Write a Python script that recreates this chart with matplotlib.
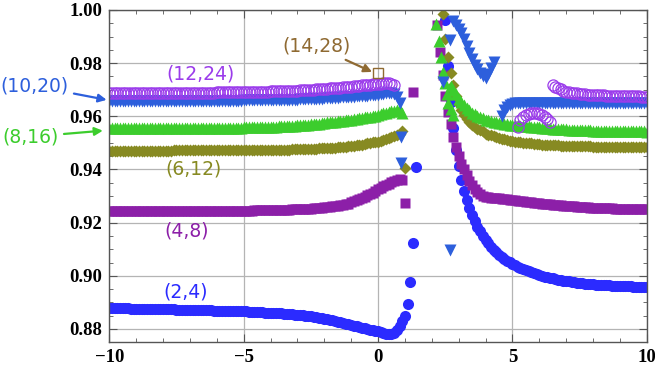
import numpy as np
import matplotlib.pyplot as plt
import matplotlib.ticker as ticker

nan = np.nan

# common x grid, step 0.1 from -10 to 10
x = np.round(np.linspace(-10, 10, 201), 1)

# (2,4) blue circles
y_2_4 = [
    0.8879, 0.8879, 0.8879, 0.8879, 0.8878, 0.8878, 0.8878, 0.8878, 0.8877, 0.8877,
    0.8877, 0.8877, 0.8876, 0.8876, 0.8876, 0.8876, 0.8876, 0.8875, 0.8875, 0.8875,
    0.8875, 0.8875, 0.8874, 0.8874, 0.8874, 0.8873, 0.8873, 0.8873, 0.8873, 0.8872,
    0.8872, 0.8872, 0.8872, 0.8871, 0.8871, 0.8871, 0.8870, 0.8870, 0.8870, 0.8869,
    0.8869, 0.8869, 0.8869, 0.8868, 0.8868, 0.8868, 0.8867, 0.8867, 0.8867, 0.8866,
    0.8866, 0.8866, 0.8865, 0.8865, 0.8864, 0.8864, 0.8863, 0.8863, 0.8862, 0.8862,
    0.8861, 0.8861, 0.8860, 0.8859, 0.8859, 0.8858, 0.8857, 0.8856, 0.8855, 0.8854,
    0.8853, 0.8852, 0.8851, 0.8850, 0.8849, 0.8847, 0.8846, 0.8844, 0.8842, 0.8840,
    0.8838, 0.8836, 0.8834, 0.8832, 0.8830, 0.8828, 0.8825, 0.8823, 0.8820, 0.8818,
    0.8815, 0.8813, 0.8810, 0.8808, 0.8805, 0.8803, 0.8800, 0.8798, 0.8796, 0.8793,
    0.8791, 0.8788, 0.8785, 0.8783, 0.8782, 0.8782, 0.8786, 0.8796, 0.8812, 0.8830,
    0.8850, 0.8895, 0.8976, 0.9123, 0.9411, nan, nan, nan, nan, nan,
    nan, nan, nan, nan, nan, 0.9962, 0.9788, 0.9655, 0.9555, 0.9474,
    0.9412, 0.9362, 0.9320, 0.9285, 0.9254, 0.9228, 0.9205, 0.9185, 0.9167, 0.9151,
    0.9136, 0.9122, 0.9110, 0.9099, 0.9089, 0.9080, 0.9072, 0.9064, 0.9057, 0.9051,
    0.9045, 0.9040, 0.9035, 0.9030, 0.9025, 0.9021, 0.9017, 0.9013, 0.9010, 0.9006,
    0.9003, 0.9000, 0.8997, 0.8995, 0.8992, 0.8990, 0.8988, 0.8986, 0.8984, 0.8982,
    0.8980, 0.8979, 0.8977, 0.8976, 0.8974, 0.8973, 0.8972, 0.8971, 0.8970, 0.8969,
    0.8968, 0.8967, 0.8966, 0.8966, 0.8965, 0.8964, 0.8964, 0.8963, 0.8963, 0.8962,
    0.8962, 0.8961, 0.8961, 0.8960, 0.8960, 0.8959, 0.8959, 0.8959, 0.8958, 0.8958,
    0.8957]

# (4,8) purple squares
y_4_8 = [
    0.9242, 0.9242, 0.9242, 0.9242, 0.9242, 0.9242, 0.9242, 0.9242, 0.9242, 0.9242,
    0.9242, 0.9242, 0.9242, 0.9242, 0.9242, 0.9242, 0.9242, 0.9242, 0.9242, 0.9242,
    0.9242, 0.9242, 0.9242, 0.9242, 0.9242, 0.9243, 0.9243, 0.9243, 0.9243, 0.9243,
    0.9243, 0.9243, 0.9243, 0.9243, 0.9243, 0.9243, 0.9243, 0.9243, 0.9243, 0.9243,
    0.9244, 0.9244, 0.9244, 0.9244, 0.9244, 0.9244, 0.9244, 0.9244, 0.9244, 0.9244,
    0.9245, 0.9245, 0.9245, 0.9245, 0.9246, 0.9246, 0.9246, 0.9246, 0.9247, 0.9247,
    0.9247, 0.9247, 0.9248, 0.9248, 0.9248, 0.9249, 0.9249, 0.9249, 0.9250, 0.9250,
    0.9251, 0.9251, 0.9252, 0.9252, 0.9253, 0.9253, 0.9254, 0.9255, 0.9256, 0.9257,
    0.9258, 0.9259, 0.9260, 0.9261, 0.9262, 0.9264, 0.9266, 0.9268, 0.9270, 0.9272,
    0.9278, 0.9281, 0.9284, 0.9288, 0.9293, 0.9298, 0.9303, 0.9308, 0.9313, 0.9319,
    0.9325, 0.9331, 0.9337, 0.9342, 0.9347, 0.9352, 0.9357, 0.9362, 0.9366, 0.9360,
    0.9273, nan, nan, 0.9690, nan, nan, nan, nan, nan, nan,
    nan, nan, 0.9942, 0.9842, 0.9755, 0.9678, 0.9617, 0.9570, 0.9524, 0.9486,
    0.9450, 0.9420, 0.9400, 0.9378, 0.9358, 0.9342, 0.9326, 0.9314, 0.9306, 0.9301,
    0.9298, 0.9296, 0.9294, 0.9293, 0.9292, 0.9291, 0.9290, 0.9289, 0.9288, 0.9287,
    0.9286, 0.9285, 0.9283, 0.9282, 0.9280, 0.9279, 0.9278, 0.9277, 0.9275, 0.9274,
    0.9273, 0.9272, 0.9271, 0.9270, 0.9269, 0.9268, 0.9267, 0.9266, 0.9265, 0.9264,
    0.9263, 0.9262, 0.9262, 0.9261, 0.9260, 0.9260, 0.9259, 0.9258, 0.9258, 0.9257,
    0.9257, 0.9256, 0.9256, 0.9255, 0.9255, 0.9254, 0.9254, 0.9254, 0.9253, 0.9253,
    0.9253, 0.9252, 0.9252, 0.9252, 0.9252, 0.9251, 0.9251, 0.9251, 0.9251, 0.9251,
    0.9251]

# (6,12) olive diamonds
y_6_12 = [
    0.9471, 0.9471, 0.9471, 0.9471, 0.9471, 0.9471, 0.9471, 0.9471, 0.9471, 0.9471,
    0.9471, 0.9471, 0.9471, 0.9471, 0.9471, 0.9471, 0.9471, 0.9471, 0.9471, 0.9471,
    0.9471, 0.9471, 0.9471, 0.9471, 0.9472, 0.9472, 0.9472, 0.9472, 0.9472, 0.9472,
    0.9472, 0.9472, 0.9472, 0.9472, 0.9472, 0.9472, 0.9472, 0.9472, 0.9472, 0.9472,
    0.9472, 0.9472, 0.9472, 0.9472, 0.9472, 0.9473, 0.9473, 0.9473, 0.9473, 0.9473,
    0.9473, 0.9473, 0.9473, 0.9473, 0.9474, 0.9474, 0.9474, 0.9474, 0.9474, 0.9474,
    0.9474, 0.9474, 0.9474, 0.9475, 0.9475, 0.9475, 0.9475, 0.9475, 0.9476, 0.9476,
    0.9476, 0.9476, 0.9477, 0.9477, 0.9477, 0.9478, 0.9478, 0.9478, 0.9479, 0.9479,
    0.9480, 0.9480, 0.9481, 0.9482, 0.9482, 0.9483, 0.9484, 0.9485, 0.9486, 0.9487,
    0.9489, 0.9490, 0.9491, 0.9493, 0.9494, 0.9496, 0.9498, 0.9500, 0.9502, 0.9503,
    0.9505, 0.9508, 0.9511, 0.9514, 0.9517, 0.9521, 0.9525, 0.9530, 0.9535, 0.9543,
    0.9405, nan, nan, nan, nan, nan, nan, nan, nan, nan,
    nan, nan, nan, nan, 0.9985, 0.9892, 0.9822, 0.9763, 0.9718, 0.9678,
    0.9645, 0.9622, 0.9604, 0.9590, 0.9579, 0.9569, 0.9561, 0.9554, 0.9548, 0.9543,
    0.9535, 0.9531, 0.9528, 0.9525, 0.9522, 0.9519, 0.9516, 0.9513, 0.9511, 0.9509,
    0.9507, 0.9505, 0.9504, 0.9502, 0.9501, 0.9500, 0.9499, 0.9498, 0.9497, 0.9496,
    0.9495, 0.9494, 0.9494, 0.9493, 0.9492, 0.9492, 0.9491, 0.9491, 0.9490, 0.9490,
    0.9489, 0.9489, 0.9489, 0.9488, 0.9488, 0.9488, 0.9487, 0.9487, 0.9487, 0.9487,
    0.9486, 0.9486, 0.9486, 0.9486, 0.9486, 0.9485, 0.9485, 0.9485, 0.9485, 0.9485,
    0.9485, 0.9485, 0.9484, 0.9484, 0.9484, 0.9484, 0.9484, 0.9484, 0.9484, 0.9484,
    0.9484]

# (8,16) green triangles
y_8_16 = [
    0.9555, 0.9555, 0.9555, 0.9555, 0.9555, 0.9555, 0.9555, 0.9555, 0.9555, 0.9555,
    0.9555, 0.9555, 0.9555, 0.9555, 0.9555, 0.9555, 0.9555, 0.9555, 0.9555, 0.9555,
    0.9555, 0.9555, 0.9555, 0.9556, 0.9556, 0.9556, 0.9556, 0.9556, 0.9556, 0.9556,
    0.9556, 0.9556, 0.9556, 0.9556, 0.9556, 0.9556, 0.9556, 0.9556, 0.9556, 0.9556,
    0.9557, 0.9557, 0.9557, 0.9557, 0.9557, 0.9557, 0.9557, 0.9557, 0.9557, 0.9557,
    0.9558, 0.9558, 0.9558, 0.9558, 0.9559, 0.9559, 0.9559, 0.9560, 0.9560, 0.9560,
    0.9561, 0.9561, 0.9561, 0.9562, 0.9562, 0.9563, 0.9563, 0.9564, 0.9564, 0.9565,
    0.9566, 0.9566, 0.9567, 0.9568, 0.9569, 0.9570, 0.9571, 0.9572, 0.9573, 0.9574,
    0.9576, 0.9577, 0.9578, 0.9579, 0.9580, 0.9581, 0.9582, 0.9584, 0.9585, 0.9586,
    0.9588, 0.9589, 0.9591, 0.9592, 0.9594, 0.9596, 0.9597, 0.9599, 0.9601, 0.9603,
    0.9605, 0.9608, 0.9611, 0.9614, 0.9616, 0.9619, 0.9621, 0.9624, 0.9622, 0.9612,
    nan, nan, nan, nan, nan, nan, nan, nan, nan, nan,
    nan, nan, nan, nan, nan, nan, nan, 0.9715, 0.9700, 0.9683,
    0.9667, 0.9653, 0.9641, 0.9631, 0.9622, 0.9614, 0.9607, 0.9601, 0.9596, 0.9592,
    0.9588, 0.9585, 0.9582, 0.9580, 0.9578, 0.9576, 0.9574, 0.9572, 0.9571, 0.9569,
    0.9568, 0.9567, 0.9566, 0.9565, 0.9564, 0.9563, 0.9562, 0.9561, 0.9560, 0.9559,
    0.9558, 0.9557, 0.9556, 0.9556, 0.9555, 0.9554, 0.9553, 0.9553, 0.9552, 0.9552,
    0.9551, 0.9550, 0.9550, 0.9549, 0.9549, 0.9548, 0.9548, 0.9547, 0.9547, 0.9547,
    0.9546, 0.9546, 0.9546, 0.9545, 0.9545, 0.9545, 0.9544, 0.9544, 0.9544, 0.9544,
    0.9543, 0.9543, 0.9543, 0.9543, 0.9543, 0.9543, 0.9543, 0.9543, 0.9543, 0.9543,
    0.9542]
# steep part of (8,16) near the resonance
x_8_16_b = [2.17, 2.28, 2.34, 2.42, 2.48, 2.55, 2.62, 2.70, 2.79]
y_8_16_b = [0.9948, 0.9884, 0.9822, 0.9765, 0.9726, 0.9685, 0.9652, 0.9628, 0.9605]

# (10,20) blue down triangles
y_10_20 = [
    0.9657, 0.9657, 0.9657, 0.9657, 0.9657, 0.9657, 0.9657, 0.9657, 0.9657, 0.9657,
    0.9657, 0.9657, 0.9657, 0.9657, 0.9657, 0.9657, 0.9657, 0.9657, 0.9657, 0.9657,
    0.9657, 0.9657, 0.9657, 0.9658, 0.9658, 0.9658, 0.9658, 0.9658, 0.9658, 0.9658,
    0.9658, 0.9658, 0.9658, 0.9658, 0.9658, 0.9658, 0.9658, 0.9658, 0.9658, 0.9658,
    0.9659, 0.9659, 0.9659, 0.9659, 0.9659, 0.9659, 0.9659, 0.9659, 0.9659, 0.9659,
    0.9660, 0.9660, 0.9660, 0.9660, 0.9660, 0.9661, 0.9661, 0.9661, 0.9661, 0.9661,
    0.9661, 0.9661, 0.9662, 0.9662, 0.9662, 0.9662, 0.9662, 0.9663, 0.9663, 0.9663,
    0.9663, 0.9664, 0.9664, 0.9664, 0.9665, 0.9665, 0.9666, 0.9666, 0.9667, 0.9667,
    0.9668, 0.9668, 0.9669, 0.9669, 0.9670, 0.9670, 0.9671, 0.9672, 0.9672, 0.9673,
    0.9674, 0.9674, 0.9675, 0.9676, 0.9677, 0.9678, 0.9678, 0.9679, 0.9680, 0.9681,
    0.9682, 0.9683, 0.9684, 0.9686, 0.9687, 0.9688, 0.9685, 0.9672, 0.9650, nan,
    nan, nan, nan, nan, nan, nan, nan, nan, nan, nan,
    nan, nan, nan, nan, nan, nan, nan, nan, 0.9958, 0.9944,
    0.9929, 0.9913, 0.9890, 0.9865, 0.9840, 0.9816, 0.9794, 0.9779, 0.9764, 0.9752,
    0.9745, 0.9760, 0.9780, 0.9806, nan, nan, 0.9600, 0.9622, 0.9636, 0.9643,
    0.9647, 0.9649, 0.9650, 0.9651, 0.9651, 0.9652, 0.9652, 0.9652, 0.9652, 0.9652,
    0.9652, 0.9652, 0.9652, 0.9652, 0.9652, 0.9652, 0.9652, 0.9652, 0.9652, 0.9652,
    0.9652, 0.9652, 0.9652, 0.9652, 0.9652, 0.9652, 0.9652, 0.9652, 0.9652, 0.9652,
    0.9652, 0.9652, 0.9652, 0.9652, 0.9652, 0.9652, 0.9652, 0.9652, 0.9652, 0.9652,
    0.9652, 0.9652, 0.9652, 0.9652, 0.9652, 0.9652, 0.9652, 0.9652, 0.9652, 0.9652,
    0.9652]
# stray (10,20) points
x_10_20_b = [0.87, 0.87, 2.42, 2.67, 2.67]
y_10_20_b = [0.9524, 0.9424, 0.9729, 0.9888, 0.9098]

# (12,24) violet open circles
y_12_24 = [
    0.9687, 0.9687, 0.9687, 0.9687, 0.9687, 0.9687, 0.9687, 0.9687, 0.9687, 0.9687,
    0.9687, 0.9687, 0.9687, 0.9687, 0.9687, 0.9688, 0.9688, 0.9688, 0.9688, 0.9688,
    0.9688, 0.9688, 0.9688, 0.9688, 0.9688, 0.9688, 0.9688, 0.9688, 0.9688, 0.9688,
    0.9689, 0.9689, 0.9689, 0.9689, 0.9689, 0.9689, 0.9689, 0.9689, 0.9689, 0.9689,
    0.9690, 0.9690, 0.9690, 0.9690, 0.9690, 0.9691, 0.9691, 0.9691, 0.9691, 0.9691,
    0.9692, 0.9692, 0.9692, 0.9692, 0.9692, 0.9693, 0.9693, 0.9693, 0.9693, 0.9693,
    0.9694, 0.9694, 0.9694, 0.9695, 0.9695, 0.9695, 0.9696, 0.9696, 0.9696, 0.9697,
    0.9697, 0.9698, 0.9698, 0.9699, 0.9699, 0.9700, 0.9700, 0.9701, 0.9702, 0.9702,
    0.9703, 0.9704, 0.9705, 0.9705, 0.9706, 0.9707, 0.9708, 0.9709, 0.9710, 0.9711,
    0.9712, 0.9713, 0.9714, 0.9715, 0.9716, 0.9717, 0.9718, 0.9719, 0.9720, 0.9721,
    0.9722, 0.9723, 0.9724, 0.9725, 0.9724, 0.9722, 0.9718, nan, nan, nan,
    nan, nan, nan, nan, nan, nan, nan, nan, nan, nan,
    nan, nan, nan, nan, nan, nan, nan, nan, nan, nan,
    nan, nan, nan, nan, nan, nan, nan, nan, nan, nan,
    nan, nan, nan, nan, nan, nan, nan, nan, nan, nan,
    nan, nan, 0.9559, 0.9586, 0.9598, 0.9604, 0.9608, 0.9611, 0.9612, 0.9611,
    0.9608, 0.9604, 0.9598, 0.9590, 0.9578, 0.9718, 0.9712, 0.9706, 0.9701, 0.9697,
    0.9693, 0.9691, 0.9689, 0.9687, 0.9686, 0.9685, 0.9684, 0.9683, 0.9682, 0.9681,
    0.9681, 0.9680, 0.9680, 0.9679, 0.9679, 0.9678, 0.9678, 0.9678, 0.9677, 0.9677,
    0.9677, 0.9676, 0.9676, 0.9676, 0.9675, 0.9675, 0.9675, 0.9675, 0.9674, 0.9674,
    0.9674]

# (14,28) single open square
x_14_28 = [0.0]
y_14_28 = [0.9762]

c_2_4 = '#2b2bff'
c_4_8 = '#8c1fa8'
c_6_12 = '#878a22'
c_8_16 = '#3ccd2d'
c_10_20 = '#2d5fdc'
c_12_24 = '#9b3ceb'
c_14_28 = '#8f6a32'

# serif numbers on the axes, sans for the series labels
plt.rcParams['font.family'] = ['Liberation Serif', 'DejaVu Serif']
lab_font = ['DejaVu Sans']

fig = plt.figure(figsize=(6.55, 3.66), dpi=100)
ax = fig.add_axes([0.1669, 0.0648, 0.8205, 0.9079])

ax.plot(x, y_2_4, 'o', ms=8.0, mfc=c_2_4, mec='none')
ax.plot(x, y_4_8, 's', ms=7.0, mfc=c_4_8, mec='none')
ax.plot(x, y_6_12, 'D', ms=5.7, mfc=c_6_12, mec='none')
ax.plot(x, y_8_16, '^', ms=8.5, mfc=c_8_16, mec='none')
ax.plot(x_8_16_b, y_8_16_b, '^', ms=8.5, mfc=c_8_16, mec='none')
ax.plot(x, y_10_20, 'v', ms=8.5, mfc=c_10_20, mec='none')
ax.plot(x_10_20_b, y_10_20_b, 'v', ms=8.5, mfc=c_10_20, mec='none')
ax.plot(x, y_12_24, 'o', ms=8.0, mfc='none', mec=c_12_24, mew=0.9)
ax.plot(x_14_28, y_14_28, 's', ms=7.0, mfc='none', mec=c_14_28, mew=1.0)

ax.set_xlim(-10, 10)
ax.set_ylim(0.875, 1.0)

ax.xaxis.set_major_locator(ticker.MultipleLocator(5))
ax.xaxis.set_minor_locator(ticker.MultipleLocator(1))
ax.yaxis.set_major_locator(ticker.MultipleLocator(0.02))
ax.yaxis.set_minor_locator(ticker.MultipleLocator(0.005))
ax.yaxis.set_major_formatter(ticker.FormatStrFormatter('%.2f'))

ax.grid(True, which='major', color='#b4b4b4', lw=0.9)
ax.set_axisbelow(True)
ax.tick_params(which='both', direction='in', top=True, right=True, color='#555555')
ax.tick_params(which='major', length=6, pad=5, labelsize=13.5)
ax.tick_params(which='minor', length=3)
for lab in ax.get_xticklabels() + ax.get_yticklabels():
    lab.set_fontweight('bold')
for sp in ax.spines.values():
    sp.set_color('#555555')
    sp.set_linewidth(1.0)

# labels of each series
fs = 13.5
ax.text(-7.17, 0.8938, '(2,4)', color=c_2_4, fontsize=fs, family=lab_font, ha='center', va='center')
ax.text(-7.14, 0.9167, '(4,8)', color=c_4_8, fontsize=fs, family=lab_font, ha='center', va='center')
ax.text(-6.85, 0.9402, '(6,12)', color=c_6_12, fontsize=fs, family=lab_font, ha='center', va='center')
ax.text(-6.60, 0.9759, '(12,24)', color=c_12_24, fontsize=fs, family=lab_font, ha='center', va='center')
ax.annotate('(14,28)', xy=(-0.22, 0.9767), xytext=(-2.3, 0.9863),
            color=c_14_28, fontsize=fs, family=lab_font, ha='center', va='center',
            arrowprops=dict(arrowstyle='-|>', color=c_14_28, lw=1.6, mutation_scale=12, shrinkA=2, shrinkB=0))
ax.annotate('(10,20)', xy=(-10.1, 0.9662), xytext=(-12.79, 0.9714),
            color=c_10_20, fontsize=fs, family=lab_font, ha='center', va='center', annotation_clip=False,
            arrowprops=dict(arrowstyle='-|>', color=c_10_20, lw=1.6, mutation_scale=12, shrinkA=2, shrinkB=0))
ax.annotate('(8,16)', xy=(-10.24, 0.9546), xytext=(-12.94, 0.9523),
            color=c_8_16, fontsize=fs, family=lab_font, ha='center', va='center', annotation_clip=False,
            arrowprops=dict(arrowstyle='-|>', color=c_8_16, lw=1.6, mutation_scale=12, shrinkA=2, shrinkB=0))

fig.savefig('out.png', dpi=100)
